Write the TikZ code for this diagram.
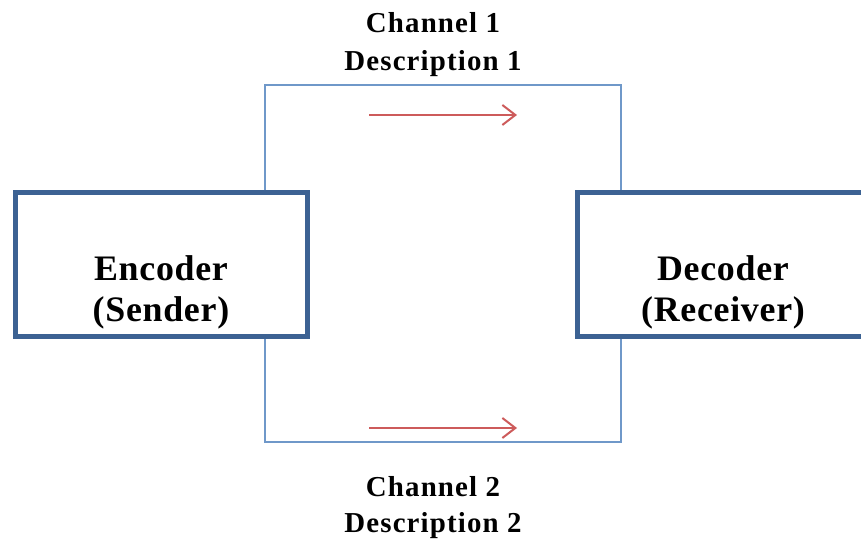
\documentclass[tikz,border=0pt]{standalone}
\usepackage{fontspec}
\setmainfont{Liberation Serif}
\usetikzlibrary{arrows.meta}

\definecolor{boxblue}{HTML}{3C6293}
\definecolor{chanblue}{HTML}{6F98C9}
\definecolor{flowred}{HTML}{CD5B5B}

\tikzset{
  coder/.style={draw=boxblue,line width=5bp,rectangle,fill=white,minimum width=292bp,minimum height=144bp},
  codertext/.style={align=center,font=\fontsize{36}{41}\selectfont\bfseries\addfontfeatures{LetterSpace=2}},
  chantext/.style={anchor=base,font=\fontsize{29}{36}\selectfont\bfseries\addfontfeatures{LetterSpace=4}},
  chan/.style={draw=chanblue,line width=2bp},
  flow/.style={draw=flowred,line width=2bp},
}

\begin{document}
\begin{tikzpicture}[>={Straight Barb[length=13bp,width=20bp]},line join=miter]
\useasboundingbox (0bp,0bp) rectangle (861bp,539bp);
%%
\node (enc) at (161bp,274bp) [coder] {};
  \node (dec) at (723bp,274bp) [coder] {};
  \node (enc_text) at (161bp,247bp) [codertext] {Encoder\\(Sender)};
  \node (dec_text) at (723bp,247bp) [codertext] {Decoder\\(Receiver)};
  \node (ch1) at (433bp,506bp) [chantext] {Channel 1};
  \node (desc1) at (433bp,468bp) [chantext] {Description 1};
  \node (ch2) at (433bp,42bp) [chantext] {Channel 2};
  \node (desc2) at (433bp,7bp) [chantext] {Description 2};
  \coordinate (up_l) at (265bp,454bp);
  \coordinate (up_r) at (621bp,454bp);
  \coordinate (lo_l) at (265bp,97bp);
  \coordinate (lo_r) at (621bp,97bp);
  \coordinate (flow1_s) at (369bp,424bp);
  \coordinate (flow1_e) at (517bp,424bp);
  \coordinate (flow2_s) at (369bp,111bp);
  \coordinate (flow2_e) at (517bp,111bp);
  \draw [chan] (enc.north -| up_l) -- (up_l) -- (up_r) -- (dec.north -| up_r);
  \draw [chan] (enc.south -| lo_l) -- (lo_l) -- (lo_r) -- (dec.south -| lo_r);
  \draw [flow,->] (flow1_s) -- (flow1_e);
  \draw [flow,->] (flow2_s) -- (flow2_e);
%
\end{tikzpicture}
\end{document}
